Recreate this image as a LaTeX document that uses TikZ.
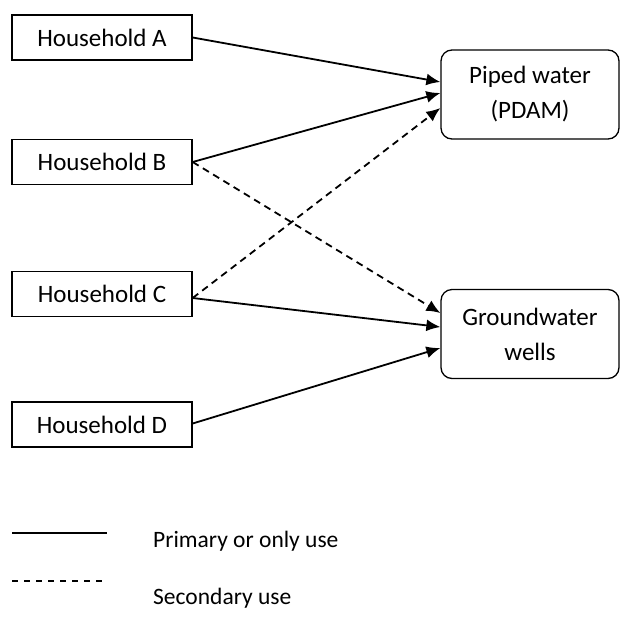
\documentclass[tikz,border=0pt]{standalone}
\usepackage{fontspec}
\setmainfont{Carlito}
\usetikzlibrary{arrows.meta}
\begin{document}
\begin{tikzpicture}[x=1pt,y=-1pt,
  hhbox/.style={draw,line width=1.3pt,minimum width=180pt,minimum height=45pt,inner sep=0pt,font=\fontsize{25}{30}\selectfont},
  srcbox/.style={draw,line width=1.3pt,rounded corners=11pt,minimum width=178pt,minimum height=89pt,inner sep=0pt,align=center,font=\fontsize{25}{35}\selectfont},
  primary/.style={line width=1.8pt,-{Latex[length=14pt,width=12pt]}},
  secondary/.style={line width=1.8pt,dash pattern=on 7pt off 5pt,-{Latex[length=14pt,width=12pt]}},
  legtext/.style={anchor=west,inner sep=0pt,font=\fontsize{23.5}{28}\selectfont}]
\useasboundingbox (0,0) rectangle (620,619);
% households
\node[hhbox] (A) at (102,37.5) {Household A};
\node[hhbox] (B) at (102,162) {Household B};
\node[hhbox] (C) at (102,294) {Household C};
\node[hhbox] (D) at (102,424.5) {Household D};
% water sources
\node[srcbox] (P) at (530,94.5) {Piped water\\(PDAM)};
\node[srcbox] (G) at (530,334) {Groundwater\\wells};
% connectors
\draw[primary] (A.east) -- (P.west |- 0,82);
\draw[primary] (B.east) -- (P.west |- 0,93);
\draw[secondary] ([yshift=-4pt]C.east) -- (P.west |- 0,108);
\draw[secondary] (B.east) -- (G.west |- 0,313);
\draw[primary] ([yshift=-4pt]C.east) -- (G.west |- 0,327);
\draw[primary] ([yshift=1pt]D.east) -- (G.west |- 0,348);
% legend
\coordinate (l1a) at (12,533);
\coordinate (l1b) at (107,533);
\coordinate (l2a) at (12,581);
\coordinate (l2b) at (104,581);
\draw[line width=1.3pt] (l1a) -- (l1b);
\draw[line width=1.1pt,dash pattern=on 6pt off 6pt] (l2a) -- (l2b);
\node[legtext] (t1) at (153,541) {Primary or only use};
\node[legtext] (t2) at (153,598) {Secondary use};
\end{tikzpicture}
\end{document}
